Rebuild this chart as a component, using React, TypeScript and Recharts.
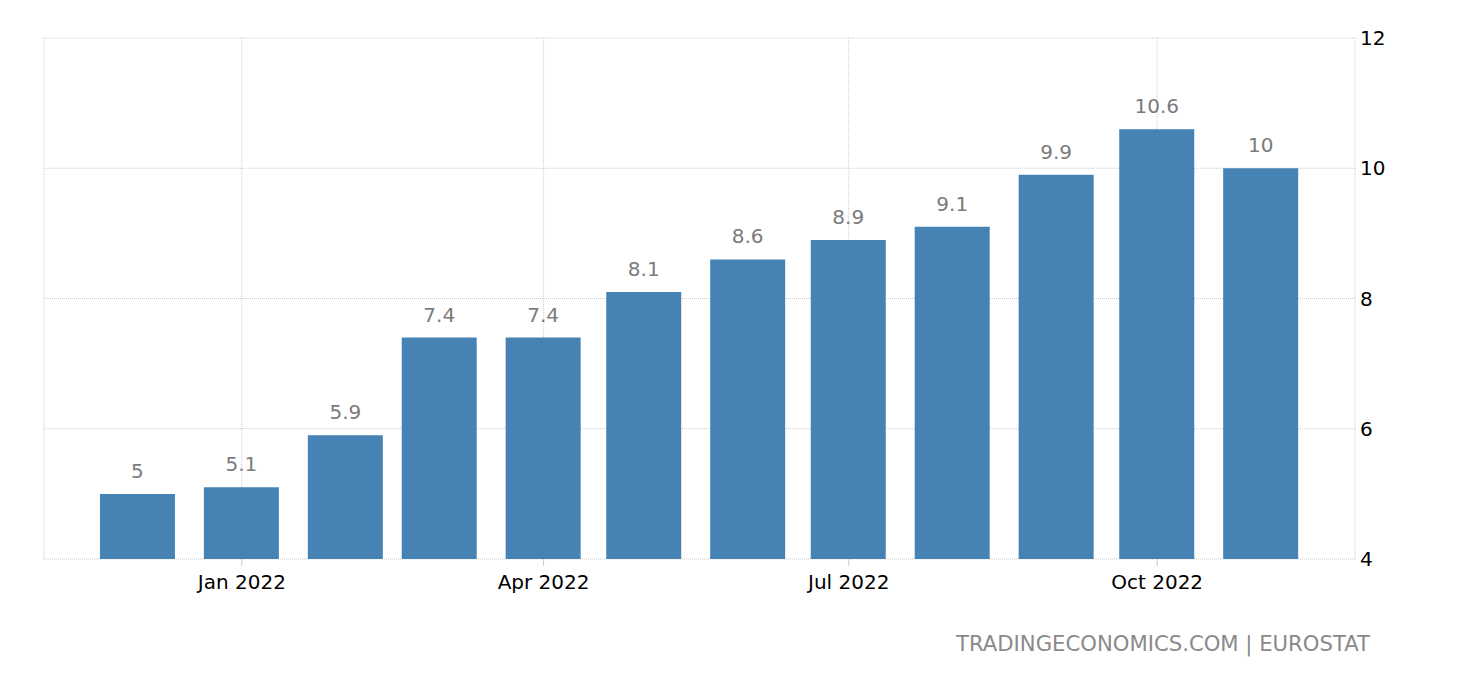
import React from 'react';
import { BarChart, Bar, XAxis, YAxis, CartesianGrid, LabelList } from 'recharts';

const months = [
  '2021-12-01', '2022-01-01', '2022-02-01', '2022-03-01', '2022-04-01', '2022-05-01',
  '2022-06-01', '2022-07-01', '2022-08-01', '2022-09-01', '2022-10-01', '2022-11-01',
];
const values = [5, 5.1, 5.9, 7.4, 7.4, 8.1, 8.6, 8.9, 9.1, 9.9, 10.6, 10];
const xTickDates = ['2022-01-01', '2022-04-01', '2022-07-01', '2022-10-01'];
const yTicks = [4, 6, 8, 10, 12];
const monthNames = ['Jan', 'Feb', 'Mar', 'Apr', 'May', 'Jun', 'Jul', 'Aug', 'Sep', 'Oct', 'Nov', 'Dec'];

const toTime = (s: string) => Date.parse(s + 'T00:00:00Z');
const DAY = 86400000;

const data = months.map((m, i) => ({ t: toTime(m), value: values[i] }));
const xTicks = xTickDates.map(toTime);
const xDomain = [toTime(months[0]) - 28 * DAY, toTime(months[months.length - 1]) + 28 * DAY];

const fmtX = (t: number) => {
  const d = new Date(t);
  return `${monthNames[d.getUTCMonth()]} ${d.getUTCFullYear()}`;
};

const FONT = '"DejaVu Sans", sans-serif';

export default function App() {
  return (
    <div style={{ position: 'absolute', left: 0, top: 0, width: 1460, height: 680, fontFamily: FONT, background: '#fff' }}>
      <BarChart
        width={1460}
        height={680}
        data={data}
        margin={{ top: 38, left: 44, right: 45, bottom: 81 }}
      >
        <CartesianGrid stroke="#cccccc" strokeDasharray="1 1" />
        <XAxis
          dataKey="t"
          type="number"
          domain={xDomain}
          ticks={xTicks}
          tickFormatter={fmtX}
          axisLine={false}
          tickLine={{ stroke: '#cccccc' }}
          tickSize={7}
          tickMargin={9}
          height={40}
          tick={{ fill: '#000', fontSize: 20, fontFamily: FONT }}
          allowDataOverflow
        />
        <YAxis
          orientation="right"
          domain={[4, 12]}
          ticks={yTicks}
          axisLine={false}
          tickLine={false}
          tickSize={0}
          tickMargin={5}
          width={60}
          tick={{ fill: '#000', fontSize: 20, fontFamily: FONT }}
          allowDataOverflow
        />
        <Bar dataKey="value" fill="#4682B4" barSize={75} isAnimationActive={false}>
          <LabelList dataKey="value" position="top" offset={16} fill="#7b7b7b" fontSize={20} fontFamily={FONT} />
        </Bar>
      </BarChart>
      <svg width={1460} height={680} style={{ position: 'absolute', left: 0, top: 0, pointerEvents: 'none' }}>
        <text x={1370} y={651} textAnchor="end" fill="#8a8a8a" fontSize={21} fontFamily={FONT} textLength={414} lengthAdjust="spacingAndGlyphs">
          TRADINGECONOMICS.COM | EUROSTAT
        </text>
      </svg>
    </div>
  );
}
